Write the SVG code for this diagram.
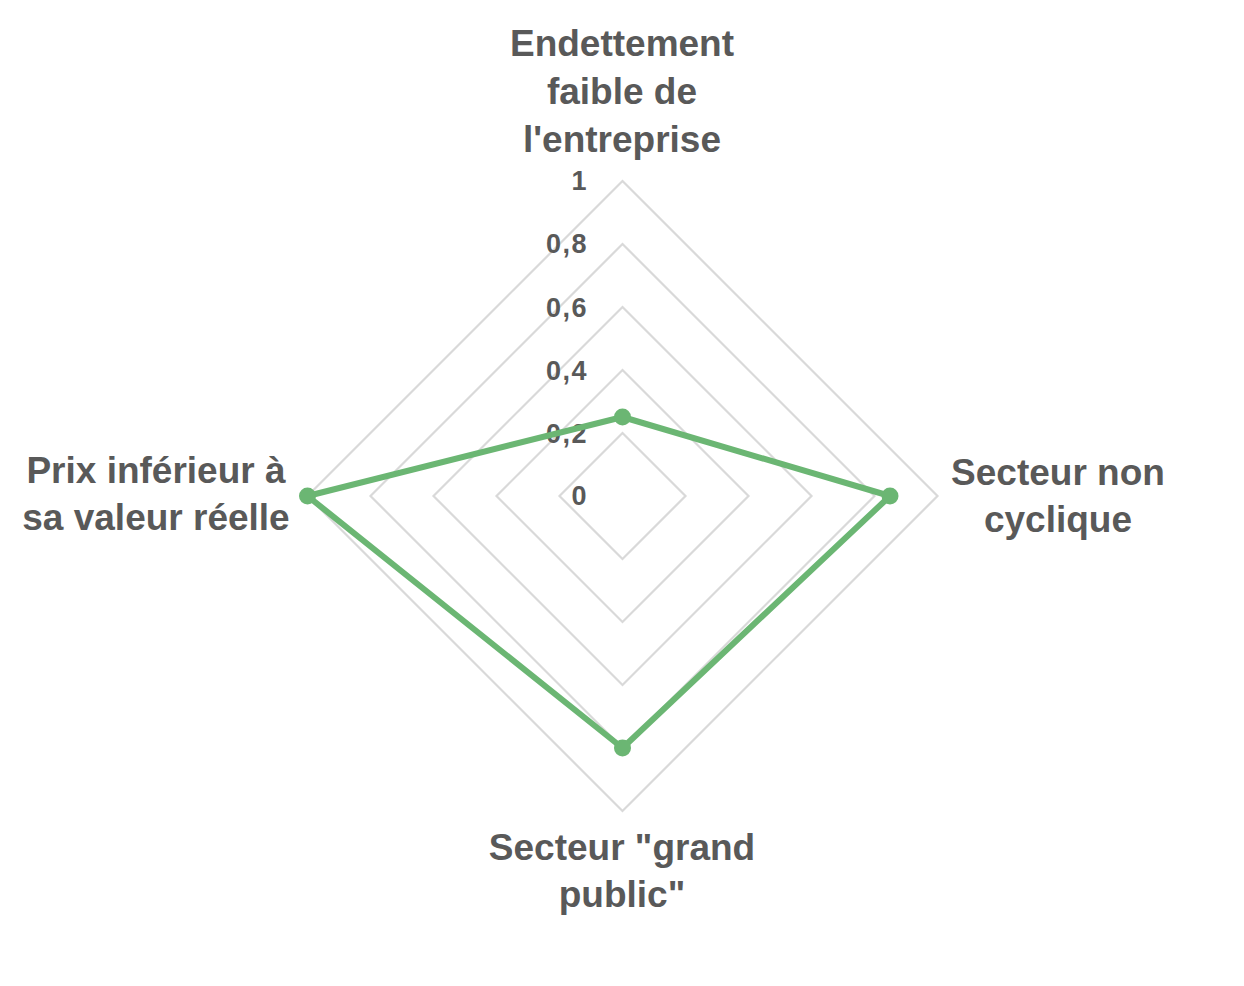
<svg xmlns="http://www.w3.org/2000/svg" width="1244" height="986" viewBox="0 0 1244 986">
<style>
.grid{fill:none;stroke:#D9D9D9;stroke-width:2.2}
.series{fill:none;stroke:#6BB673;stroke-width:6;stroke-linejoin:round}
.pt{fill:#6BB673}
.tick{font-family:"Liberation Sans",Arial,sans-serif;font-weight:bold;font-size:27px;fill:#595959;text-anchor:end;letter-spacing:1.5px}
.cat{font-family:"Liberation Sans",Arial,sans-serif;font-weight:bold;font-size:37px;fill:#595959;text-anchor:middle}
</style>
<rect width="1244" height="986" fill="#FFFFFF"/>
<g id="grid">
<polygon class="grid" points="622.5,433 685.5,496 622.5,559 559.5,496"/>
<polygon class="grid" points="622.5,370 748.5,496 622.5,622 496.5,496"/>
<polygon class="grid" points="622.5,307 811.5,496 622.5,685 433.5,496"/>
<polygon class="grid" points="622.5,244 874.5,496 622.5,748 370.5,496"/>
<polygon class="grid" points="622.5,181 937.5,496 622.5,811 307.5,496"/>
</g>
<g id="ticks">
<text class="tick" x="588" y="190">1</text>
<text class="tick" x="588" y="253">0,8</text>
<text class="tick" x="588" y="317">0,6</text>
<text class="tick" x="588" y="380">0,4</text>
<text class="tick" x="588" y="443">0,2</text>
<text class="tick" x="588" y="505">0</text>
</g>
<g id="connectors">
<polygon class="series" points="622.5,417 890,496 622.5,748 307.5,496"/>
</g>
<g id="node-top">
<circle class="pt" cx="622.5" cy="417" r="8.5"/>
<text class="cat" x="622" y="56">Endettement</text>
<text class="cat" x="622" y="104">faible de</text>
<text class="cat" x="622" y="152">l'entreprise</text>
</g>
<g id="node-right">
<circle class="pt" cx="890" cy="496" r="8.5"/>
<text class="cat" x="1058" y="485">Secteur non</text>
<text class="cat" x="1058" y="532">cyclique</text>
</g>
<g id="node-bottom">
<circle class="pt" cx="622.5" cy="748" r="8.5"/>
<text class="cat" x="622" y="860">Secteur "grand</text>
<text class="cat" x="622" y="907">public"</text>
</g>
<g id="node-left">
<circle class="pt" cx="307.5" cy="496" r="8.5"/>
<text class="cat" x="156" y="483">Prix inférieur à</text>
<text class="cat" x="156" y="530">sa valeur réelle</text>
</g>
</svg>
